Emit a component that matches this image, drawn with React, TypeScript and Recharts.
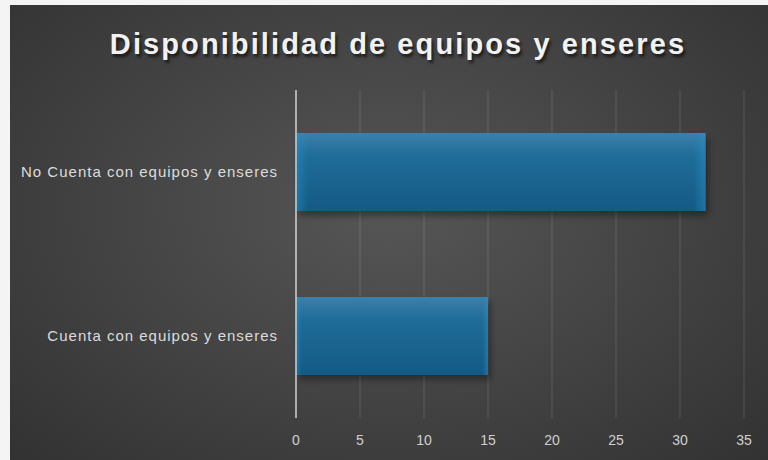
import { BarChart, Bar, XAxis, YAxis, CartesianGrid } from "recharts";

const categories = ["No Cuenta con equipos y enseres", "Cuenta con equipos y enseres"];
const counts = [32, 15];
const xTicks = [0, 5, 10, 15, 20, 25, 30, 35];

const data = categories.map((name, i) => ({ name, value: counts[i] }));

function BarShape(props: any) {
  const { x, y, width, height } = props;
  return (
    <g>
      <rect x={x + 3} y={y + 5} width={width} height={height} fill="#000" opacity={0.35} filter="url(#barBlur)" />
      <rect x={x} y={y} width={width} height={height} fill="url(#barGrad)" />
      <rect x={x} y={y} width={width} height={height} fill="url(#barEdge)" />
    </g>
  );
}

export default function App() {
  return (
    <div style={{ position: "fixed", left: 0, top: 0, width: 768, height: 460, background: "#f4f4f4" }}>
      <div
        style={{
          position: "absolute",
          left: 10,
          top: 5,
          width: 758,
          height: 455,
          background: "radial-gradient(ellipse at 50% 45%, #565656 0%, #464646 45%, #323232 100%)",
        }}
      />
      <div
        style={{
          position: "absolute",
          left: 10,
          top: 28,
          width: 776,
          textAlign: "center",
          color: "#f2f2f2",
          fontFamily: "'Liberation Sans', Arial, sans-serif",
          fontWeight: 700,
          fontSize: 29,
          letterSpacing: 2.1,
          textShadow: "2px 3px 3px rgba(0,0,0,0.6)",
        }}
      >
        Disponibilidad de equipos y enseres
      </div>
      <div style={{ position: "absolute", left: 0, top: 0 }}>
        <BarChart
          width={768}
          height={460}
          data={data}
          layout="vertical"
          margin={{ top: 90, right: 24, bottom: 0, left: 0 }}
        >
          <defs>
            <linearGradient id="barGrad" x1="0" y1="0" x2="0" y2="1">
              <stop offset="0%" stopColor="#3b80aa" />
              <stop offset="30%" stopColor="#1f6c98" />
              <stop offset="100%" stopColor="#135a84" />
            </linearGradient>
            <linearGradient id="barEdge" x1="0" y1="0" x2="1" y2="0">
              <stop offset="0%" stopColor="#2a8fc8" stopOpacity={0.5} />
              <stop offset="3%" stopColor="#2a8fc8" stopOpacity={0} />
              <stop offset="97%" stopColor="#2a8fc8" stopOpacity={0} />
              <stop offset="100%" stopColor="#2a8fc8" stopOpacity={0.5} />
            </linearGradient>
            <filter id="barBlur" x="-10%" y="-20%" width="120%" height="140%">
              <feGaussianBlur stdDeviation="3" />
            </filter>
          </defs>
          <CartesianGrid horizontal={false} stroke="#ffffff" strokeOpacity={0.14} />
          <XAxis
            type="number"
            domain={[0, 35]}
            ticks={xTicks}
            height={42}
            axisLine={false}
            tickLine={false}
            tickSize={0}
            tickMargin={17}
            tick={{ fill: "#d0d0d0", fontSize: 14, fontFamily: "'Liberation Sans', Arial, sans-serif" }}
          />
          <YAxis
            type="category"
            dataKey="name"
            width={296}
            axisLine={{ stroke: "#cfcfcf", strokeWidth: 1.5 }}
            tickLine={false}
            tickSize={0}
            tickMargin={18}
            tick={{ fill: "#dcdcdc", fontSize: 15, letterSpacing: 1, fontFamily: "'Liberation Sans', Arial, sans-serif" }}
          />
          <Bar dataKey="value" barSize={78} shape={BarShape} isAnimationActive={false} />
        </BarChart>
      </div>
    </div>
  );
}
